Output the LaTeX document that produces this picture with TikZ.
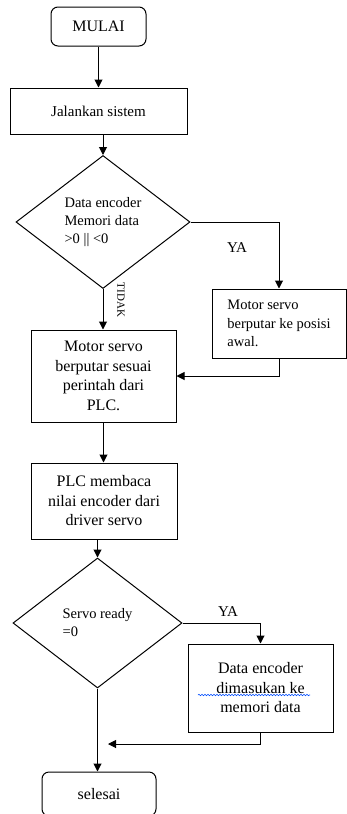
\documentclass[tikz,border=0pt]{standalone}
\usepackage{fontspec}
\setmainfont{Liberation Serif}
\usetikzlibrary{positioning,shapes.geometric,arrows.meta,decorations.pathmorphing}
\tikzstyle{startstop} = [draw, line width=1pt, rounded corners=7pt, font=\fontsize{16}{19}\selectfont]
\tikzstyle{process} = [draw, line width=1pt, align=center, font=\fontsize{16}{19.5}\selectfont]
\tikzstyle{decision} = [draw, line width=1pt, diamond, aspect=1.3, inner sep=0pt, align=left, font=\fontsize{14.5}{18}\selectfont]
\tikzstyle{label} = [font=\fontsize{15}{18}\selectfont]
\tikzstyle{arrow} = [line width=1pt,-{Triangle[length=8pt,width=8pt]}]
\tikzstyle{line} = [line width=1pt]

\begin{document}
\begin{tikzpicture}[x=1pt,y=-1pt]
	\useasboundingbox (0,0) rectangle (347,814);
	\node[startstop, minimum width=95pt, minimum height=39pt] (mulai) at (98.5,26.5) {MULAI};
	\node[process, minimum width=177pt, minimum height=46pt, font=\fontsize{15}{18}\selectfont] (jalankan) at (98.5,111) {Jalankan sistem};
	\node[decision, minimum width=174pt, minimum height=133pt] (cekdata) at (103,222) {Data encoder\\Memori data\\>0 || <0};
	\node[process, minimum width=134pt, minimum height=69pt, align=left, font=\fontsize{14.5}{18.5}\selectfont] (awal) at (279,323.5) {Motor servo\\berputar ke posisi\\awal.};
	\node[process, minimum width=145pt, minimum height=92pt] (putar) at (103.5,376) {Motor servo\\berputar sesuai\\perintah dari\\PLC.};
	\node[process, minimum width=146pt, minimum height=76pt] (baca) at (104,501) {PLC membaca\\nilai encoder dari\\driver servo};
	\node[decision, minimum width=169pt, minimum height=130pt] (cekready) at (97.5,623) {Servo ready\\=0};
	\node[process, minimum width=145pt, minimum height=88pt] (simpan) at (260.5,688) {Data encoder\\dimasukan ke\\memori data};
	\node[startstop, minimum width=114pt, minimum height=44pt] (selesai) at (99,794) {selesai};
	\coordinate (gabung) at (108,744);

	\node[label] (ya1) at (237,248) {YA};
	\node[label, rotate=-90, font=\fontsize{11}{13}\selectfont] (tidak) at (121,300) {TIDAK};
	\node[label] (ya2) at (228,612) {YA};

	\draw[arrow] (mulai.south) -- (mulai.south |- jalankan.north);
	\draw[arrow] (jalankan.south -| cekdata.north) -- (cekdata.north);
	\draw[arrow] (cekdata.east) -| (awal.north);
	\draw[arrow] (cekdata.south) -- (cekdata.south |- putar.north);
	\draw[arrow] (awal.south) |- (putar.east);
	\draw[arrow] (putar.south) -- (putar.south |- baca.north);
	\draw[arrow] (baca.south -| cekready.north) -- (cekready.north);
	\draw[arrow] (cekready.east) -| (simpan.north);
	\draw[arrow] (cekready.south) -- (cekready.south |- selesai.north);
	\draw[arrow] (simpan.south) |- (gabung);

	\draw[blue!70!cyan, line width=0.6pt, decorate, decoration={snake, amplitude=0.7pt, segment length=3pt}] (198,695) -- (310,695);
\end{tikzpicture}
\end{document}
